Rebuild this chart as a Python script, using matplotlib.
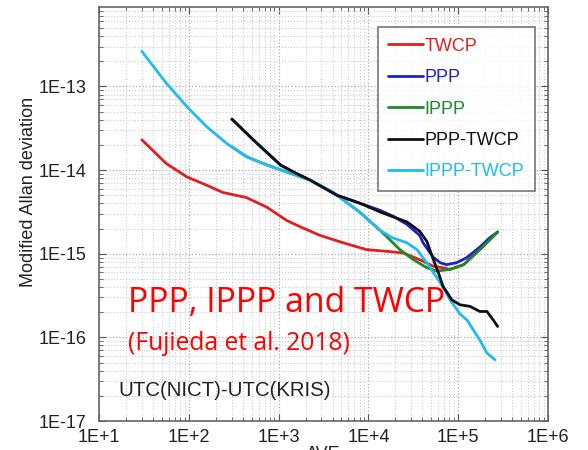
import numpy as np
import matplotlib
matplotlib.use("Agg")
import matplotlib.pyplot as plt
from matplotlib.ticker import LogLocator, NullFormatter

# ---- data (tau in s, modified Allan deviation) ----
twcp_tau = [30, 56, 95, 158, 240, 437, 741, 1230, 1740, 2880, 5250, 9550, 15800, 24500, 37200, 52500, 67600, 81300, 115000, 174000, 275000]
twcp_dev = [2.3e-14, 1.2e-14, 8.3e-15, 6.6e-15, 5.4e-15, 4.7e-15, 3.6e-15, 2.5e-15, 2.1e-15, 1.66e-15, 1.35e-15, 1.12e-15, 1.07e-15, 1.02e-15, 8.5e-16, 7.1e-16, 6.8e-16, 6.5e-16, 7.4e-16, 1.12e-15, 1.82e-15]

ppp_tau = [302, 525, 1050, 1580, 2240, 4470, 8130, 13500, 19000, 26900, 37200, 40700, 52500, 63100, 74100, 95500, 123000, 174000, 224000, 275000]
ppp_dev = [4.07e-14, 2.29e-14, 1.15e-14, 9.1e-15, 7.6e-15, 5.0e-15, 4.0e-15, 3.3e-15, 2.8e-15, 2.24e-15, 1.66e-15, 1.35e-15, 9.1e-16, 7.8e-16, 7.4e-16, 7.8e-16, 8.9e-16, 1.2e-15, 1.55e-15, 1.82e-15]

ippp_tau = [302, 437, 741, 1230, 2240, 4070, 8130, 13500, 15800, 22400, 31600, 44700, 57500, 81300, 115000, 174000, 275000]
ippp_dev = [1.9e-14, 1.45e-14, 1.15e-14, 9.5e-15, 7.6e-15, 5.4e-15, 3.1e-15, 1.9e-15, 1.62e-15, 1.12e-15, 8.5e-16, 6.8e-16, 6.2e-16, 6.5e-16, 7.4e-16, 1.12e-15, 1.82e-15]

ppptw_tau = [302, 525, 1050, 1580, 2240, 4470, 8130, 13500, 19000, 26900, 37200, 44700, 52500, 60300, 67600, 85100, 105000, 135000, 174000, 209000, 245000, 275000]
ppptw_dev = [4.07e-14, 2.29e-14, 1.15e-14, 9.1e-15, 7.6e-15, 5.0e-15, 4.0e-15, 3.16e-15, 2.75e-15, 2.4e-15, 1.86e-15, 1.41e-15, 8.7e-16, 5.9e-16, 4.1e-16, 2.8e-16, 2.45e-16, 2.35e-16, 2.04e-16, 2.04e-16, 1.62e-16, 1.35e-16]

ippptw_tau = [30, 56, 95, 158, 263, 437, 741, 1230, 2240, 4070, 8130, 13500, 18600, 26900, 34700, 44700, 63100, 81300, 105000, 126000, 174000, 209000, 257000]
ippptw_dev = [2.63e-13, 1.1e-13, 5.75e-14, 3.31e-14, 2.09e-14, 1.45e-14, 1.15e-14, 9.5e-15, 7.6e-15, 5.4e-15, 3.1e-15, 1.9e-15, 1.55e-15, 1.35e-15, 1.12e-15, 7.8e-16, 4.5e-16, 2.8e-16, 1.9e-16, 1.6e-16, 9.3e-17, 6.5e-17, 5.4e-17]

xtick_vals = [1e1, 1e2, 1e3, 1e4, 1e5, 1e6]
xtick_labels = ["1E+1", "1E+2", "1E+3", "1E+4", "1E+5", "1E+6"]
ytick_vals = [1e-17, 1e-16, 1e-15, 1e-14, 1e-13]
ytick_labels = ["1E-17", "1E-16", "1E-15", "1E-14", "1E-13"]

series = [
    ("TWCP", twcp_tau, twcp_dev, "#e02020"),
    ("PPP", ppp_tau, ppp_dev, "#2020c8"),
    ("IPPP", ippp_tau, ippp_dev, "#1a8a2a"),
    ("PPP-TWCP", ppptw_tau, ppptw_dev, "#111111"),
    ("IPPP-TWCP", ippptw_tau, ippptw_dev, "#22bbee"),
]

plt.rcParams['font.family'] = ['Liberation Sans', 'DejaVu Sans']

fig = plt.figure(figsize=(5.88, 4.5), dpi=100)
ax = fig.add_axes([99/588, 1 - 421/450, 449/588, 414/450])

# draw order: green under cyan, blue under black
order = [0, 1, 2, 4, 3]
handles = {}
for i in order:
    name, t, d, c = series[i]
    h, = ax.plot(t, d, color=c, lw=2.0, label=name, solid_capstyle='round')
    handles[name] = h

ax.set_xscale('log')
ax.set_yscale('log')
ax.set_xlim(1e1, 1e6)
ax.set_ylim(1e-17, 10**-12.05)

ax.set_xticks(xtick_vals)
ax.set_xticklabels(xtick_labels)
ax.set_yticks(ytick_vals)
ax.set_yticklabels(ytick_labels)
ax.xaxis.set_minor_locator(LogLocator(base=10, subs=np.arange(2, 10), numticks=50))
ax.yaxis.set_minor_locator(LogLocator(base=10, subs=np.arange(2, 10), numticks=50))
ax.xaxis.set_minor_formatter(NullFormatter())
ax.yaxis.set_minor_formatter(NullFormatter())

ax.tick_params(which='both', direction='in', top=True, right=True, colors='#555555',
               labelcolor='#222222', labelsize=13)
ax.tick_params(which='major', length=5)
ax.tick_params(which='minor', length=3)
ax.tick_params(axis='x', pad=6)
ax.tick_params(axis='y', pad=9)

ax.grid(True, which='major', linestyle=':', color='#aaaaaa', lw=0.9)
ax.grid(True, which='minor', linestyle=':', color='#cccccc', lw=0.8)
for s in ax.spines.values():
    s.set_color('#666666')
    s.set_linewidth(1.2)

ax.set_ylabel("Modified Allan deviation", fontsize=13, color='#222222')
ax.yaxis.set_label_coords(-0.138, 0.553)

leg = ax.legend([handles[s[0]] for s in series], [s[0] for s in series],
                loc='upper right', bbox_to_anchor=(0.971, 0.952), borderaxespad=0,
                fontsize=13, frameon=True, fancybox=False, edgecolor='#555555',
                handlelength=1.9, handletextpad=0.1, labelspacing=0.8,
                borderpad=0.6)
leg.get_frame().set_linewidth(1.2)
for txt, s in zip(leg.get_texts(), series):
    txt.set_color(s[3])

fig.text(128/588, 1 - 303/450, "PPP, IPPP and TWCP", color='#ff0000',
         fontsize=24.3, family=['Open Sans', 'DejaVu Sans'], va='center', ha='left')
fig.text(128/588, 1 - 344/450, "(Fujieda et al. 2018)", color='#ff0000',
         fontsize=17.7, family=['Open Sans', 'DejaVu Sans'], va='center', ha='left')
fig.text(118/588, 1 - 390/450, "UTC(NICT)-UTC(KRIS)", color='#222222',
         fontsize=14.7, va='center', ha='left')

fig.text(323/588, 4/450, "AVE", color='#222222', fontsize=13, ha='center', va='top')

fig.savefig("out.png", dpi=100)
